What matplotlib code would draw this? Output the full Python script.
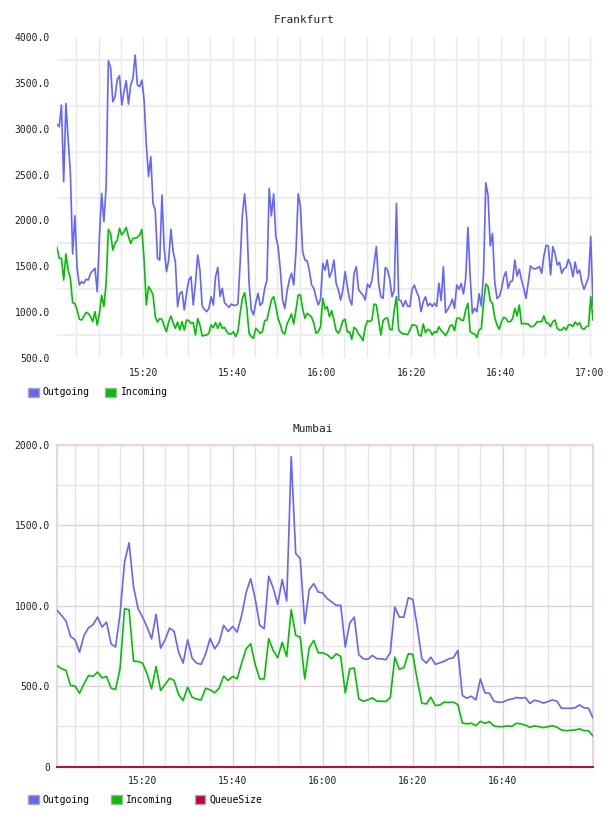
import matplotlib
matplotlib.use("Agg")
import matplotlib.pyplot as plt
import matplotlib.dates as mdates
from matplotlib.patches import Patch
from matplotlib.ticker import FixedLocator, FuncFormatter
import pandas as pd

# ---------------- data ----------------
fra_title = "Frankfurt"
fra_start = "2024-01-01 15:00:40"
fra_step = "30s"
fra_outgoing = [
    3047, 3022, 3258, 2422, 3276, 2877, 2520, 1634, 2050, 1480,
    1296, 1332, 1314, 1358, 1350, 1423, 1452, 1478, 1223, 1823,
    2295, 1986, 2368, 3741, 3669, 3294, 3349, 3538, 3578, 3258,
    3404, 3523, 3269, 3476, 3549, 3803, 3476, 3458, 3531, 3313,
    2822, 2477, 2695, 2186, 2113, 1587, 1568, 2277, 1696, 1441,
    1568, 1903, 1659, 1550, 1060, 1205, 1223, 1023, 1205, 1350,
    1387, 1078, 1314, 1623, 1459, 1067, 1031, 1005, 1041, 1169,
    1078, 1387, 1488, 1169, 1260, 1103, 1078, 1052, 1089, 1074,
    1074, 1089, 1532, 2060, 2290, 2004, 1314, 1023, 969, 1103,
    1205, 1074, 1103, 1260, 1350, 2350, 2050, 2290, 1820, 1714,
    1459, 1132, 1041, 1223, 1350, 1423, 1296, 1659, 2290, 2150,
    1659, 1568, 1561, 1452, 1296, 1260, 1161, 1078, 1140, 1532,
    1459, 1568, 1379, 1441, 1568, 1314, 1241, 1132, 1241, 1441,
    1278, 1140, 1078, 1423, 1496, 1249, 1212, 1187, 1132, 1307,
    1270, 1343, 1532, 1714, 1314, 1169, 1150, 1488, 1459, 1358,
    1169, 1241, 2186, 1132, 1125, 1060, 1125, 1067, 1060, 1249,
    1296, 1223, 1169, 1005, 1114, 1169, 1067, 1096, 1063, 1096,
    1063, 1314, 1125, 1496, 994, 1031, 1074, 1140, 1041, 1296,
    1249, 1314, 1198, 1369, 1924, 1387, 987, 1041, 1005, 1198,
    1067, 1423, 2411, 2277, 1721, 1859, 1332, 1150, 1169, 1249,
    1379, 1441, 1260, 1332, 1343, 1568, 1394, 1467, 1350, 1260,
    1150, 1321, 1503, 1478, 1470, 1481, 1496, 1423, 1612, 1728,
    1721, 1405, 1714, 1641, 1514, 1543, 1423, 1474, 1488, 1576,
    1514, 1387, 1547, 1423, 1459, 1325, 1249, 1314, 1379, 1823,
    1078,
]
fra_incoming = [
    1706, 1587, 1587, 1350, 1634, 1459, 1369, 1103, 1096, 1023,
    922, 914, 951, 998, 987, 951, 896, 1005, 860, 987,
    1183, 1060, 1314, 1903, 1859, 1677, 1750, 1786, 1914, 1841,
    1877, 1924, 1823, 1750, 1805, 1805, 1815, 1841, 1903, 1568,
    1078, 1278, 1241, 1187, 951, 892, 929, 922, 849, 787,
    892, 958, 885, 823, 892, 805, 896, 805, 914, 907,
    878, 885, 751, 929, 860, 740, 747, 751, 769, 860,
    831, 885, 823, 885, 823, 834, 787, 762, 762, 787,
    733, 787, 987, 1150, 1212, 1041, 769, 733, 714, 823,
    798, 769, 787, 907, 914, 1023, 1132, 1169, 1060, 932,
    863, 776, 762, 871, 922, 980, 871, 1023, 1187, 1187,
    1038, 932, 987, 969, 943, 878, 769, 787, 842, 1150,
    1034, 1060, 951, 1016, 914, 798, 769, 823, 907, 922,
    783, 787, 704, 834, 813, 762, 733, 689, 834, 907,
    896, 914, 1089, 1078, 914, 751, 907, 932, 936, 813,
    805, 1023, 1169, 805, 776, 762, 762, 754, 805, 860,
    860, 849, 751, 740, 871, 776, 813, 802, 751, 787,
    776, 842, 798, 776, 743, 787, 852, 860, 798, 932,
    936, 914, 907, 1023, 1096, 787, 769, 762, 725, 805,
    823, 1096, 1307, 1278, 1125, 1096, 943, 860, 813, 892,
    943, 932, 896, 896, 929, 1041, 958, 1078, 871, 878,
    871, 871, 842, 842, 860, 896, 896, 896, 958, 885,
    878, 842, 896, 914, 823, 805, 805, 834, 805, 860,
    863, 842, 892, 860, 885, 823, 813, 842, 849, 1169,
    914,
]
fra_yticks = [500, 1000, 1500, 2000, 2500, 3000, 3500, 4000]
fra_xticks = ["15:20", "15:40", "16:00", "16:20", "16:40", "17:00"]

mum_title = "Mumbai"
mum_start = "2024-01-01 15:01:00"
mum_step = "60s"
mum_outgoing = [
    972, 941, 906, 810, 789, 712, 816, 864, 883, 930,
    868, 899, 764, 744, 951, 1273, 1392, 1117, 982, 930,
    868, 795, 947, 737, 789, 862, 841, 712, 644, 789,
    675, 644, 636, 702, 798, 733, 773, 879, 841, 872,
    837, 941, 1084, 1169, 1045, 879, 858, 1184, 1111, 1009,
    1163, 1030, 1927, 1325, 1294, 889, 1101, 1138, 1086, 1080,
    1045, 1024, 1003, 1003, 744, 893, 930, 696, 671, 667,
    692, 671, 671, 665, 710, 993, 930, 930, 1051, 1039,
    868, 671, 644, 681, 636, 646, 656, 671, 677, 723,
    442, 426, 438, 415, 546, 459, 457, 407, 401, 401,
    415, 420, 430, 426, 430, 393, 413, 407, 395, 405,
    415, 407, 363, 363, 363, 366, 384, 366, 363, 303,
]
mum_incoming = [
    629, 609, 598, 505, 501, 457, 515, 567, 561, 588,
    552, 561, 488, 480, 609, 982, 976, 656, 654, 644,
    577, 484, 623, 474, 511, 550, 536, 449, 411, 494,
    432, 420, 415, 488, 478, 459, 488, 563, 536, 561,
    546, 644, 733, 764, 636, 546, 546, 795, 723, 677,
    773, 685, 976, 816, 806, 546, 739, 785, 708, 708,
    696, 671, 702, 685, 459, 609, 613, 422, 407, 415,
    428, 407, 407, 405, 428, 681, 606, 615, 702, 698,
    536, 395, 390, 432, 380, 384, 401, 399, 401, 386,
    272, 266, 270, 255, 282, 270, 280, 253, 249, 249,
    253, 251, 270, 266, 258, 245, 253, 249, 243, 249,
    255, 245, 228, 224, 226, 228, 235, 224, 224, 191,
]
mum_queue = [0] * 120
mum_yticks = [0, 500, 1000, 1500, 2000]
mum_xticks = ["15:20", "15:40", "16:00", "16:20", "16:40"]

series_names = ["Outgoing", "Incoming", "QueueSize"]
series_colors = ["#6464ff", "#00c000", "#cc0033"]

# ---------------- style ----------------
FONT = "DejaVu Sans Mono"
plt.rcParams["font.family"] = [FONT, "DejaVu Sans"]
plt.rcParams["font.size"] = 7
W, H = 608, 816
fig = plt.figure(figsize=(W / 100, H / 100), dpi=100)
fig.patch.set_facecolor("white")


def fx(px):
    return px / W


def fy(py):
    return 1 - py / H


def fmt_val(v, p):
    return "0" if v == 0 else f"{v:.1f}"


def times(start, step, n):
    return pd.date_range(start=start, periods=n, freq=step)


def tick_times(labels):
    return [mdates.date2num(pd.Timestamp("2024-01-01 " + s)) for s in labels]


# ---------------- Frankfurt ----------------
ax1 = fig.add_axes([fx(57), fy(358), fx(536), 321 / H])
t1 = times(fra_start, fra_step, len(fra_outgoing))
ax1.plot(t1, fra_outgoing, color=series_colors[0], lw=1.2, zorder=3)
ax1.plot(t1, fra_incoming, color=series_colors[1], lw=1.2, zorder=4)
ax1.set_xlim(t1[0], t1[-1])
ax1.set_ylim(500, 4000)
for s in ax1.spines.values():
    s.set_visible(False)
ax1.yaxis.set_major_locator(FixedLocator(fra_yticks))
ax1.yaxis.set_minor_locator(FixedLocator([v + 250 for v in fra_yticks[:-1]]))
ax1.yaxis.set_major_formatter(FuncFormatter(fmt_val))
ax1.set_xticks(tick_times(fra_xticks))
ax1.xaxis.set_major_formatter(mdates.DateFormatter("%H:%M"))
ax1.xaxis.set_minor_locator(mdates.MinuteLocator(byminute=range(0, 60, 5)))
ax1.grid(True, which="minor", axis="y", color="#eeeeee", lw=1.5, zorder=0)
ax1.grid(True, which="both", axis="x", color="#e8e8e8", lw=1.0, zorder=0)
ax1.tick_params(which="both", length=0)
ax1.tick_params(axis="y", pad=5, labelsize=7, labelcolor="#222222")
ax1.tick_params(axis="x", pad=7, labelsize=7, labelcolor="#222222")
ax1.set_axisbelow(True)
fig.text(0.5, fy(20), fra_title, ha="center", va="center", fontsize=8, color="#222222")

h1 = [Patch(facecolor=c, edgecolor="#aaaaaa", lw=1) for c in series_colors[:2]]
fig.legend(h1, series_names[:2], loc="center left",
           bbox_to_anchor=(fx(23), fy(392.5)), ncol=2, frameon=False,
           borderpad=0, handlelength=1.1, handleheight=1.0,
           handletextpad=0.45, columnspacing=1.6, fontsize=7)

# ---------------- Mumbai ----------------
ax2 = fig.add_axes([fx(57), fy(766.7), fx(536), 321.7 / H])
t2 = times(mum_start, mum_step, len(mum_outgoing))
ax2.plot(t2, mum_outgoing, color=series_colors[0], lw=1.2, zorder=3)
ax2.plot(t2, mum_incoming, color=series_colors[1], lw=1.2, zorder=4)
ax2.plot(t2, mum_queue, color=series_colors[2], lw=1.4, zorder=5, clip_on=False)
ax2.set_xlim(t2[0], t2[-1])
ax2.set_ylim(0, 2000)
for s in ax2.spines.values():
    s.set_color("#e6d2e6")
    s.set_linewidth(1.3)
ax2.yaxis.set_major_locator(FixedLocator(mum_yticks))
ax2.yaxis.set_minor_locator(FixedLocator([v + 250 for v in mum_yticks[:-1]]))
ax2.yaxis.set_major_formatter(FuncFormatter(fmt_val))
ax2.set_xticks(tick_times(mum_xticks))
ax2.xaxis.set_major_formatter(mdates.DateFormatter("%H:%M"))
ax2.xaxis.set_minor_locator(mdates.MinuteLocator(byminute=range(0, 60, 5)))
ax2.grid(True, which="minor", axis="both", color="#e8e4e8", lw=1.0, zorder=0)
ax2.grid(True, which="major", axis="both", color="#e2cce2", lw=1.0, zorder=0)
ax2.tick_params(which="both", length=0)
ax2.tick_params(axis="y", pad=5, labelsize=7, labelcolor="#222222")
ax2.tick_params(axis="x", pad=7, labelsize=7, labelcolor="#222222")
ax2.set_axisbelow(True)
fig.text(fx(313), fy(429), mum_title, ha="center", va="center", fontsize=8, color="#222222")

h2 = [Patch(facecolor=c, edgecolor="#aaaaaa", lw=1) for c in series_colors]
fig.legend(h2, series_names, loc="center left",
           bbox_to_anchor=(fx(23), fy(800)), ncol=3, frameon=False,
           borderpad=0, handlelength=1.1, handleheight=1.0,
           handletextpad=0.45, columnspacing=2.2, fontsize=7)

fig.savefig("out.png", dpi=100, facecolor="white")
